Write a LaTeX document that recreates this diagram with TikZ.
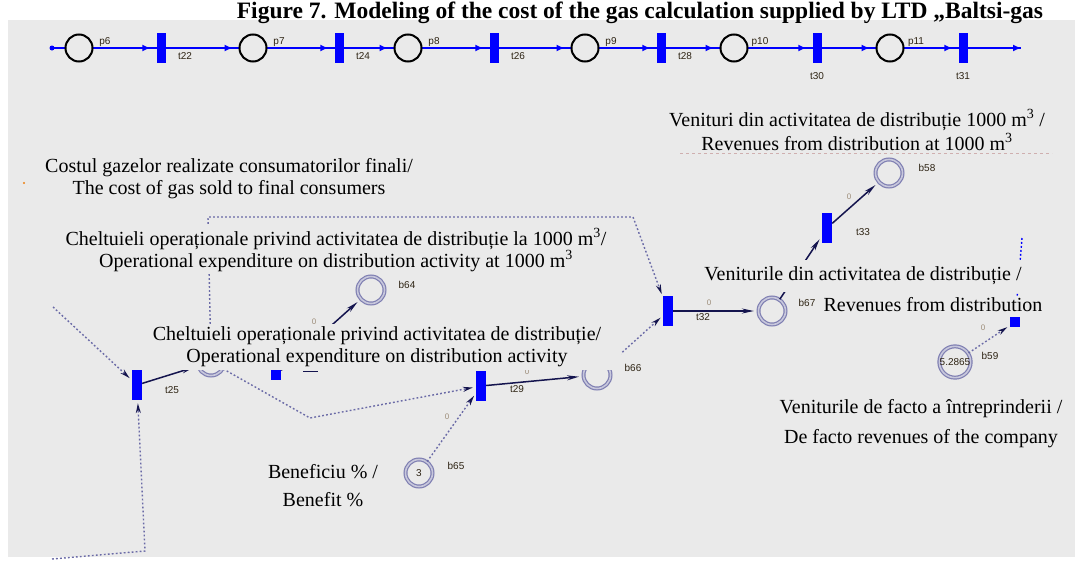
\documentclass[tikz,border=0pt]{standalone}
\usepackage{fontspec}
\setmainfont{Liberation Serif}
\setsansfont{Liberation Sans}
\usetikzlibrary{arrows.meta}
\definecolor{bgcol}{HTML}{EAEAEA}
\definecolor{netblue}{HTML}{0000FF}
\definecolor{ringcol}{HTML}{7F7FB2}
\definecolor{ringin}{HTML}{C8C8DC}
\definecolor{arccol}{HTML}{14144E}
\definecolor{dotcol}{HTML}{6A6AA6}
\definecolor{namecol}{HTML}{2E2414}
\definecolor{zerocol}{HTML}{9C8C78}
\tikzset{
  place/.style={circle, draw=black, line width=2pt, fill=bgcol, minimum size=27pt, inner sep=0pt},
  trans/.style={rectangle, fill=netblue, minimum width=10pt, minimum height=30pt, inner sep=0pt},
  bplace/.style={circle, draw=ringcol, double=ringin, double distance=1.6pt, line width=1.2pt, fill=bgcol,
    minimum size=27pt, inner sep=0pt, text=namecol, font=\sffamily\fontsize{10}{11}\selectfont},
  sq/.style={rectangle, fill=netblue, minimum size=10pt, inner sep=0pt},
  lbl/.style={fill=bgcol, align=center, inner sep=2pt, font=\fontsize{20}{22}\selectfont},
  nm/.style={inner sep=0pt, text=namecol, font=\sffamily\fontsize{10}{11}\selectfont},
  zero/.style={inner sep=0pt, text=zerocol, font=\sffamily\fontsize{8}{9}\selectfont},
  toparc/.style={draw=netblue, line width=1.6pt, -{Latex[length=8pt,width=7pt]}, shorten >=6pt},
  arc/.style={draw=arccol, line width=1.5pt, -{Stealth[length=12pt,width=5pt]}, shorten >=4pt},
  inh/.style={draw=dotcol, line width=1.4pt, dash pattern=on 1.8pt off 2.2pt,
    -{Stealth[length=10pt,width=5pt,color=arccol]}, shorten >=3pt},
}
\begin{document}
\begin{tikzpicture}[x=1pt, y=-1pt]
  \useasboundingbox (0,0) rectangle (1081,565);
  \fill[bgcol] (8,20) rectangle (1075,557);
  \node[anchor=base, inner sep=0pt, font=\bfseries\fontsize{23.5}{26}\selectfont] (title) at (640,18)
    {Figure 7. Modeling of the cost of the gas calculation supplied by LTD „Baltsi-gas};

  \coordinate (src) at (52,48);
  \coordinate (snk) at (1021,48);
  \draw[netblue, line width=1.6pt] (src) -- (snk);
  \fill[netblue] (src) circle (2.5pt);
  \foreach \n/\x in {p6/79, p7/253, p8/408, p9/585, p10/734, p11/890}
  {
  \node[place] (\n) at (\x,48) {};
  \node[nm] at (\x+26,42) {\n};
  }
  \foreach \n/\x in {t22/161, t24/339, t26/494, t28/661}
  {
  \node[trans, minimum width=9pt] (\n) at (\x,48) {};
  \node[nm] at (\x+24,56) {\n};
  }
  \foreach \n/\x in {t30/817, t31/963}
  {
  \node[trans, minimum width=9pt] (\n) at (\x,48) {};
  \node[nm] at (\x,76) {\n};
  }
  \foreach \a/\b in {p6/t22, t22/p7, p7/t24, t24/p8, p8/t26, t26/p9, p9/t28, t28/p10, p10/t30, t30/p11, p11/t31}
  {
  \draw[toparc] (\a) -- (\b);
  }
  \draw[toparc, shorten >=0pt] (t31) -- (snk);

  \node[trans] (t25) at (137,385) {};
  \node[trans] (t29) at (481,386) {};
  \node[trans] (t32) at (668,311) {};
  \node[trans] (t33) at (827,228) {};
  \node[sq] (sqA) at (276,375) {};
  \node[sq] (sqB) at (1015,322) {};
  \node[bplace] (pA) at (211,362) {};
  \node[bplace] (b64) at (371,290) {};
  \node[bplace] (b65) at (419,473) {3};
  \node[bplace] (b66) at (597,375) {};
  \node[bplace] (b67) at (772,311) {};
  \node[bplace] (b58) at (889,173) {};
  \node[bplace] (b59) at (955,362) {5.2865};
  \coordinate (c1) at (208,217);
  \coordinate (c2) at (633,217);
  \coordinate (c3) at (310,418);
  \coordinate (c4) at (53,307);
  \coordinate (c5) at (52,559);
  \coordinate (c6) at (145,551);
  \coordinate (c7) at (1022,238);

  \draw[arc] (t25) -- (pA);
  \draw[arc] (sqA) -- (b64);
  \draw[arc] (t29) -- (b66);
  \draw[arc] (t32) -- (b67);
  \draw[arc] (b67) -- (t33);
  \draw[arc] (t33) -- (b58);
  \draw[inh] (c4) -- (t25);
  \draw[inh] (c5) -- (c6) -- (t25);
  \draw[inh] (pA) -- (c3) -- (t29);
  \draw[inh] (b65) -- (t29);
  \draw[inh] (pA) -- (c1) -- (c2) -- (t32);
  \draw[inh] (b66) -- (t32);
  \draw[inh] (b59) -- (sqB);
  \draw[inh, draw=netblue] (c7) -- (sqB);
  \draw[arccol, line width=1pt] (303,371) -- (318,371);
  \fill[orange!70!brown] (24,183) circle (1.2pt);
  \draw[dashed, draw=red!25!gray!50, line width=0.6pt] (680,153) -- (1052,153);

  \node[nm] at (172,390) {t25};
  \node[nm] at (517,389) {t29};
  \node[nm] at (703,317) {t32};
  \node[nm] at (863,232) {t33};
  \node[nm] at (407,285) {b64};
  \node[nm] at (456,466) {b65};
  \node[nm] at (633,368) {b66};
  \node[nm] at (807,303) {b67};
  \node[nm] at (927,168) {b58};
  \node[nm] at (990,356) {b59};
  \foreach \x/\y in {314/322, 527/372, 447/417, 709/303, 849/197, 983/328}
  {
  \node[zero] at (\x,\y) {0};
  }

  \node[lbl] (costul) at (229,179) {Costul gazelor realizate consumatorilor finali/\\The cost of gas sold to final consumers};
  \node[lbl] (opex1000) at (336,250) {Cheltuieli operaționale privind activitatea de distribuție la 1000 m\textsuperscript{3}/\\Operational expenditure on distribution activity at 1000 m\textsuperscript{3}};
  \node[lbl, inner xsep=20pt, inner ysep=3pt] (opex) at (377,347) {Cheltuieli operaționale privind activitatea de distribuție/\\Operational expenditure on distribution activity};
  \node[lbl] (rev1000) at (857,130) {Venituri din activitatea de distribuție 1000 m\textsuperscript{3} /\\[2pt]Revenues from distribution at 1000 m\textsuperscript{3}};
  \node[lbl, inner ysep=7pt] (rev) at (863,276) {Veniturile din activitatea de distribuție /};
  \node[lbl] (revb) at (933,305) {Revenues from distribution};
  \node[lbl] (benef) at (323,486) {Beneficiu \% /\\[6pt]Benefit \%};
  \node[lbl] (defacto) at (921,424) {Veniturile de facto a întreprinderii /\\[8pt]De facto revenues of the company};
\end{tikzpicture}
\end{document}
